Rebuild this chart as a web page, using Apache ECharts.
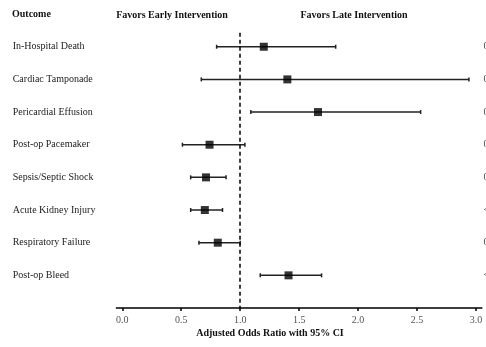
<!DOCTYPE html>
<html>
<head>
<meta charset="utf-8">
<script src="https://cdn.jsdelivr.net/npm/echarts@6/dist/echarts.min.js"></script>
<style>
  html, body { margin: 0; padding: 0; background: #fff; }
  #chart { width: 486px; height: 347px; }
</style>
</head>
<body>
<div id="chart"></div>
<script>
// outcomes, top to bottom
var outcomes = ['In-Hospital Death', 'Cardiac Tamponade', 'Pericardial Effusion', 'Post-op Pacemaker',
  'Sepsis/Septic Shock', 'Acute Kidney Injury', 'Respiratory Failure', 'Post-op Bleed'];
var oddsRatio = [1.20, 1.40, 1.66, 0.74, 0.71, 0.70, 0.81, 1.41];
var ciLow = [0.80, 0.67, 1.09, 0.51, 0.58, 0.58, 0.65, 1.17];
var ciHigh = [1.81, 2.94, 2.53, 1.04, 0.88, 0.85, 1.00, 1.69];
// p-value column, cut off at the right edge
var pLabels = ['0.', '0.', '0.', '0.', '0.', '<0.', '0.', '<0.'];
var xTicks = [0, 0.5, 1, 1.5, 2, 2.5, 3];

var serif = '"Liberation Serif", "DejaVu Serif", serif';
var rows = outcomes.map(function (o, i) { return i; });

var chart = echarts.init(document.getElementById('chart'));

var option = {
  backgroundColor: '#fff',
  animation: false,
  grid: { left: 116.4, right: 4.1, top: 32.7, bottom: 39, containLabel: false, outerBoundsMode: 'none' },
  xAxis: {
    type: 'value',
    min: -0.05,
    max: 3.05,
    splitLine: { show: false },
    axisLine: { show: true, onZero: false, lineStyle: { color: '#000', width: 1.5 } },
    axisTick: { show: true, customValues: xTicks, length: 3, lineStyle: { color: '#000', width: 1.5 } },
    axisLabel: {
      customValues: xTicks,
      margin: 7,
      color: '#555',
      fontFamily: serif,
      fontSize: 10,
      formatter: function (v) { return v.toFixed(1); }
    }
  },
  yAxis: [{
    type: 'value',
    inverse: true,
    min: -0.43,
    max: 8,
    splitLine: { show: false },
    axisLine: { show: false },
    axisTick: { show: false },
    axisLabel: {
      customValues: rows,
      align: 'left',
      margin: 103.7,
      color: '#222',
      fontFamily: serif,
      fontSize: 10,
      formatter: function (v) { return outcomes[v]; }
    }
  }, {
    type: 'value',
    inverse: true,
    position: 'right',
    min: -0.43,
    max: 8,
    splitLine: { show: false },
    axisLine: { show: false },
    axisTick: { show: false },
    axisLabel: {
      customValues: rows,
      align: 'left',
      margin: 1.5,
      color: '#444',
      fontFamily: serif,
      fontSize: 10,
      formatter: function (v) { return pLabels[v]; }
    }
  }],
  graphic: [
    { type: 'text', left: 12, top: 9, style: { text: 'Outcome', font: 'bold 10px ' + serif, fill: '#111' } },
    { type: 'text', x: 172, y: 15, style: { text: 'Favors Early Intervention', font: 'bold 10px ' + serif, fill: '#111', align: 'center', verticalAlign: 'middle' } },
    { type: 'text', x: 354, y: 15, style: { text: 'Favors Late Intervention', font: 'bold 10px ' + serif, fill: '#111', align: 'center', verticalAlign: 'middle' } },
    { type: 'text', x: 270, y: 333, style: { text: 'Adjusted Odds Ratio with 95% CI', font: 'bold 10px ' + serif, fill: '#111', align: 'center', verticalAlign: 'middle' } }
  ],
  series: [
    {
      // confidence intervals
      type: 'custom',
      renderItem: function (params, api) {
        var y = api.value(0);
        var a = api.coord([api.value(1), y]);
        var b = api.coord([api.value(2), y]);
        var st = { stroke: '#222', lineWidth: 1.5 };
        return {
          type: 'group',
          children: [
            { type: 'line', shape: { x1: a[0], y1: a[1], x2: b[0], y2: b[1] }, style: st },
            { type: 'line', shape: { x1: a[0], y1: a[1] - 2, x2: a[0], y2: a[1] + 2 }, style: st },
            { type: 'line', shape: { x1: b[0], y1: b[1] - 2, x2: b[0], y2: b[1] + 2 }, style: st }
          ]
        };
      },
      encode: { x: [1, 2], y: 0 },
      data: rows.map(function (i) { return [i, ciLow[i], ciHigh[i]]; }),
      z: 2,
      markLine: {
        silent: true,
        symbol: 'none',
        label: { show: false },
        lineStyle: { color: '#000', type: [4, 3], width: 1.5 },
        data: [{ xAxis: 1 }]
      }
    },
    {
      // point estimates
      type: 'scatter',
      symbol: 'rect',
      symbolSize: 8,
      itemStyle: { color: '#000' },
      data: rows.map(function (i) { return [oddsRatio[i], i]; }),
      z: 3
    }
  ]
};

chart.setOption(option);
</script>
</body>
</html>
